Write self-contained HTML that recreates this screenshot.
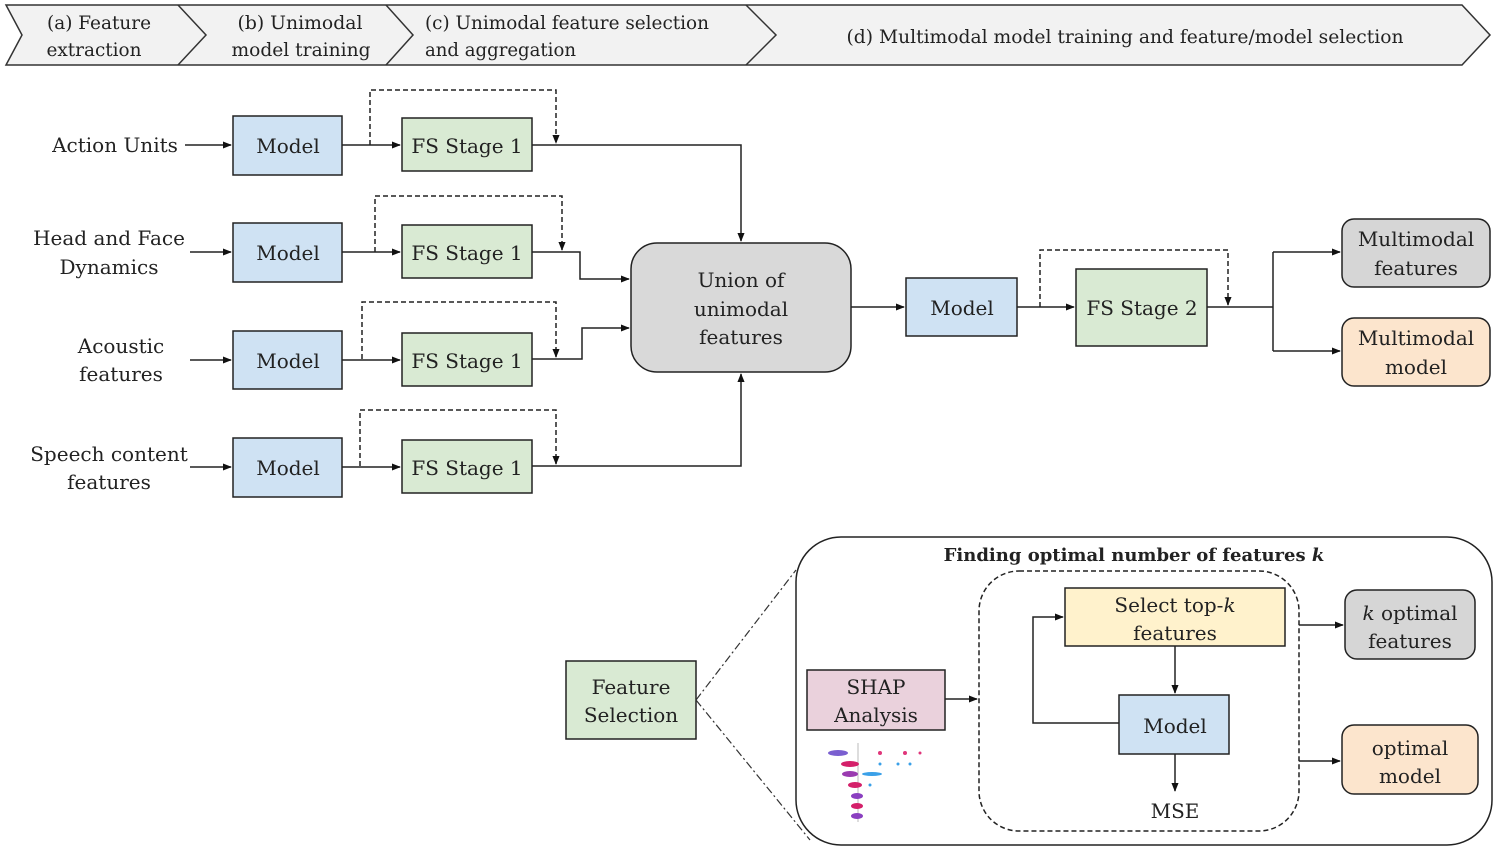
<!DOCTYPE html>
<html><head><meta charset="utf-8"><style>
html,body{margin:0;padding:0;background:#fff;}
svg{display:block;}
text{font-family:"DejaVu Serif","Liberation Serif",serif;fill:#222;}
</style></head><body>
<svg width="1497" height="850" viewBox="0 0 1497 850" xmlns="http://www.w3.org/2000/svg">
<defs>
<marker id="a" viewBox="0 0 10 10" refX="9" refY="5" markerWidth="6" markerHeight="6" orient="auto"><path d="M0,1 L10,5 L0,9 z" fill="#111"/></marker>
</defs>
<!-- header -->
<path d="M6,5 L1462,5 L1490,35 L1462,65 L6,65 L22,35 Z" fill="#f2f2f2" stroke="#333" stroke-width="1.5"/>
<path d="M178,5 L206,35 L178,65 M386,5 L413,35 L386,65 M746,5 L776,35 L746,65" fill="none" stroke="#333" stroke-width="1.5"/>
<g font-size="19" text-anchor="middle">
<text x="99" y="29" textLength="104" lengthAdjust="spacingAndGlyphs">(a) Feature</text>
<text x="94" y="56" textLength="95" lengthAdjust="spacingAndGlyphs">extraction</text>
<text x="300" y="29" textLength="125" lengthAdjust="spacingAndGlyphs">(b) Unimodal</text>
<text x="301" y="56" textLength="139" lengthAdjust="spacingAndGlyphs">model training</text>
<text x="1125" y="43" textLength="557" lengthAdjust="spacingAndGlyphs">(d) Multimodal model training and feature/model selection</text>
</g>
<g font-size="19">
<text x="425" y="29" textLength="284" lengthAdjust="spacingAndGlyphs">(c) Unimodal feature selection</text>
<text x="425" y="56" textLength="151" lengthAdjust="spacingAndGlyphs">and aggregation</text>
</g>

<g stroke="#222" stroke-width="1.5">
<!-- model boxes -->
<rect x="233" y="116" width="109" height="59" fill="#cfe2f3"/>
<rect x="233" y="223" width="109" height="59" fill="#cfe2f3"/>
<rect x="233" y="331" width="109" height="58" fill="#cfe2f3"/>
<rect x="233" y="438" width="109" height="59" fill="#cfe2f3"/>
<rect x="402" y="118" width="130" height="53" fill="#d9ead3"/>
<rect x="402" y="225" width="130" height="53" fill="#d9ead3"/>
<rect x="402" y="333" width="130" height="53" fill="#d9ead3"/>
<rect x="402" y="440" width="130" height="53" fill="#d9ead3"/>
<rect x="631" y="243" width="220" height="129" rx="26" fill="#d9d9d9"/>
<rect x="906" y="278" width="111" height="58" fill="#cfe2f3"/>
<rect x="1076" y="269" width="131" height="77" fill="#d9ead3"/>
<rect x="1342" y="219" width="148" height="68" rx="12" fill="#d6d6d6"/>
<rect x="1342" y="318" width="148" height="68" rx="12" fill="#fce5cd"/>
</g>

<g stroke="#222" stroke-width="1.5" fill="none">
<!-- inputs -->
<path d="M185,145 H231" marker-end="url(#a)"/>
<path d="M190,252 H231" marker-end="url(#a)"/>
<path d="M190,360 H231" marker-end="url(#a)"/>
<path d="M190,467 H231" marker-end="url(#a)"/>
<path d="M342,145 H400" marker-end="url(#a)"/>
<path d="M342,252 H400" marker-end="url(#a)"/>
<path d="M342,360 H400" marker-end="url(#a)"/>
<path d="M342,467 H400" marker-end="url(#a)"/>
<path d="M532,145 H741 V241" marker-end="url(#a)"/>
<path d="M532,252 H580 V279 H629" marker-end="url(#a)"/>
<path d="M532,359 H582 V328 H629" marker-end="url(#a)"/>
<path d="M532,466 H741 V374" marker-end="url(#a)"/>
<path d="M851,307 H904" marker-end="url(#a)"/>
<path d="M1017,307 H1074" marker-end="url(#a)"/>
<path d="M1207,307 H1273 M1273,252 V351"/>
<path d="M1273,252 H1340" marker-end="url(#a)"/>
<path d="M1273,351 H1340" marker-end="url(#a)"/>
</g>
<g stroke="#222" stroke-width="1.5" fill="none" stroke-dasharray="5,3">
<path d="M370,145 V90 H556 V143" marker-end="url(#a)"/>
<path d="M375,252 V196 H562 V250" marker-end="url(#a)"/>
<path d="M362,359 V302 H556 V357" marker-end="url(#a)"/>
<path d="M360,466 V410 H556 V464" marker-end="url(#a)"/>
<path d="M1040,307 V250 H1228 V305" marker-end="url(#a)"/>
</g>

<g font-size="20" text-anchor="middle">
<text x="115" y="152">Action Units</text>
<text x="109" y="245">Head and Face</text>
<text x="109" y="274">Dynamics</text>
<text x="121" y="353">Acoustic</text>
<text x="121" y="381">features</text>
<text x="109" y="461">Speech content</text>
<text x="109" y="489">features</text>
<text x="288" y="153">Model</text>
<text x="288" y="260">Model</text>
<text x="288" y="368">Model</text>
<text x="288" y="475">Model</text>
<text x="467" y="153">FS Stage 1</text>
<text x="467" y="260">FS Stage 1</text>
<text x="467" y="368">FS Stage 1</text>
<text x="467" y="475">FS Stage 1</text>
<text x="741" y="287">Union of</text>
<text x="741" y="316">unimodal</text>
<text x="741" y="344">features</text>
<text x="962" y="315">Model</text>
<text x="1142" y="315">FS Stage 2</text>
<text x="1416" y="246">Multimodal</text>
<text x="1416" y="275">features</text>
<text x="1416" y="345">Multimodal</text>
<text x="1416" y="374">model</text>
</g>

<!-- bottom -->
<rect x="796" y="537" width="696" height="308" rx="45" fill="none" stroke="#222" stroke-width="1.5"/>
<rect x="979" y="571" width="320" height="260" rx="40" fill="none" stroke="#222" stroke-width="1.5" stroke-dasharray="5,3"/>
<g stroke="#222" stroke-width="1.5">
<rect x="566" y="661" width="130" height="78" fill="#d9ead3"/>
<rect x="807" y="670" width="138" height="60" fill="#ead1dc"/>
<rect x="1065" y="588" width="220" height="58" fill="#fff2cc"/>
<rect x="1119" y="695" width="110" height="59" fill="#cfe2f3"/>
<rect x="1345" y="590" width="130" height="69" rx="12" fill="#d6d6d6"/>
<rect x="1342" y="725" width="136" height="69" rx="12" fill="#fce5cd"/>
</g>
<g stroke="#222" stroke-width="1.5" fill="none">
<path d="M945,699 H977" marker-end="url(#a)"/>
<path d="M1175,646 V693" marker-end="url(#a)"/>
<path d="M1175,754 V791" marker-end="url(#a)"/>
<path d="M1119,723 H1033 V617 H1063" marker-end="url(#a)"/>
<path d="M1299,625 H1343" marker-end="url(#a)"/>
<path d="M1299,761 H1340" marker-end="url(#a)"/>
</g>
<path d="M696,700 L796,570 M696,700 L810,840" stroke="#333" stroke-width="1.2" fill="none" stroke-dasharray="8,3,2,3"/>
<!-- shap dots -->
<line x1="858" y1="743" x2="858" y2="822" stroke="#bbb" stroke-width="1"/>
<g>
<ellipse cx="838" cy="753" rx="10" ry="3" fill="#7a5fd0"/><circle cx="880" cy="753" r="2" fill="#e0357a"/><circle cx="905" cy="753" r="2" fill="#e0357a"/><circle cx="920" cy="753" r="1.5" fill="#e0357a"/>
<ellipse cx="850" cy="764" rx="9" ry="3" fill="#d4206a"/><circle cx="880" cy="764" r="1.5" fill="#3aa0e8"/><circle cx="898" cy="764" r="1.5" fill="#3aa0e8"/><circle cx="910" cy="764" r="1.5" fill="#3aa0e8"/>
<ellipse cx="850" cy="774" rx="8" ry="3" fill="#9a3bb0"/><ellipse cx="872" cy="774" rx="10" ry="2" fill="#3aa0e8"/>
<ellipse cx="855" cy="785" rx="7" ry="3" fill="#d4206a"/><circle cx="870" cy="785" r="1.5" fill="#3aa0e8"/>
<ellipse cx="857" cy="796" rx="6" ry="3" fill="#8a3fc0"/>
<ellipse cx="857" cy="806" rx="6" ry="3" fill="#d4206a"/>
<ellipse cx="857" cy="816" rx="6" ry="3" fill="#8a3fc0"/>
</g>
<g font-size="20" text-anchor="middle">
<text x="1134" y="561" font-weight="bold" font-size="18">Finding optimal number of features <tspan font-style="italic">k</tspan></text>
<text x="631" y="694">Feature</text>
<text x="631" y="722">Selection</text>
<text x="876" y="694">SHAP</text>
<text x="876" y="722">Analysis</text>
<text x="1175" y="612">Select top-<tspan font-style="italic">k</tspan></text>
<text x="1175" y="640">features</text>
<text x="1175" y="733">Model</text>
<text x="1175" y="818">MSE</text>
<text x="1410" y="620"><tspan font-style="italic">k</tspan> optimal</text>
<text x="1410" y="648">features</text>
<text x="1410" y="755">optimal</text>
<text x="1410" y="783">model</text>
</g>
</svg>
</body></html>
